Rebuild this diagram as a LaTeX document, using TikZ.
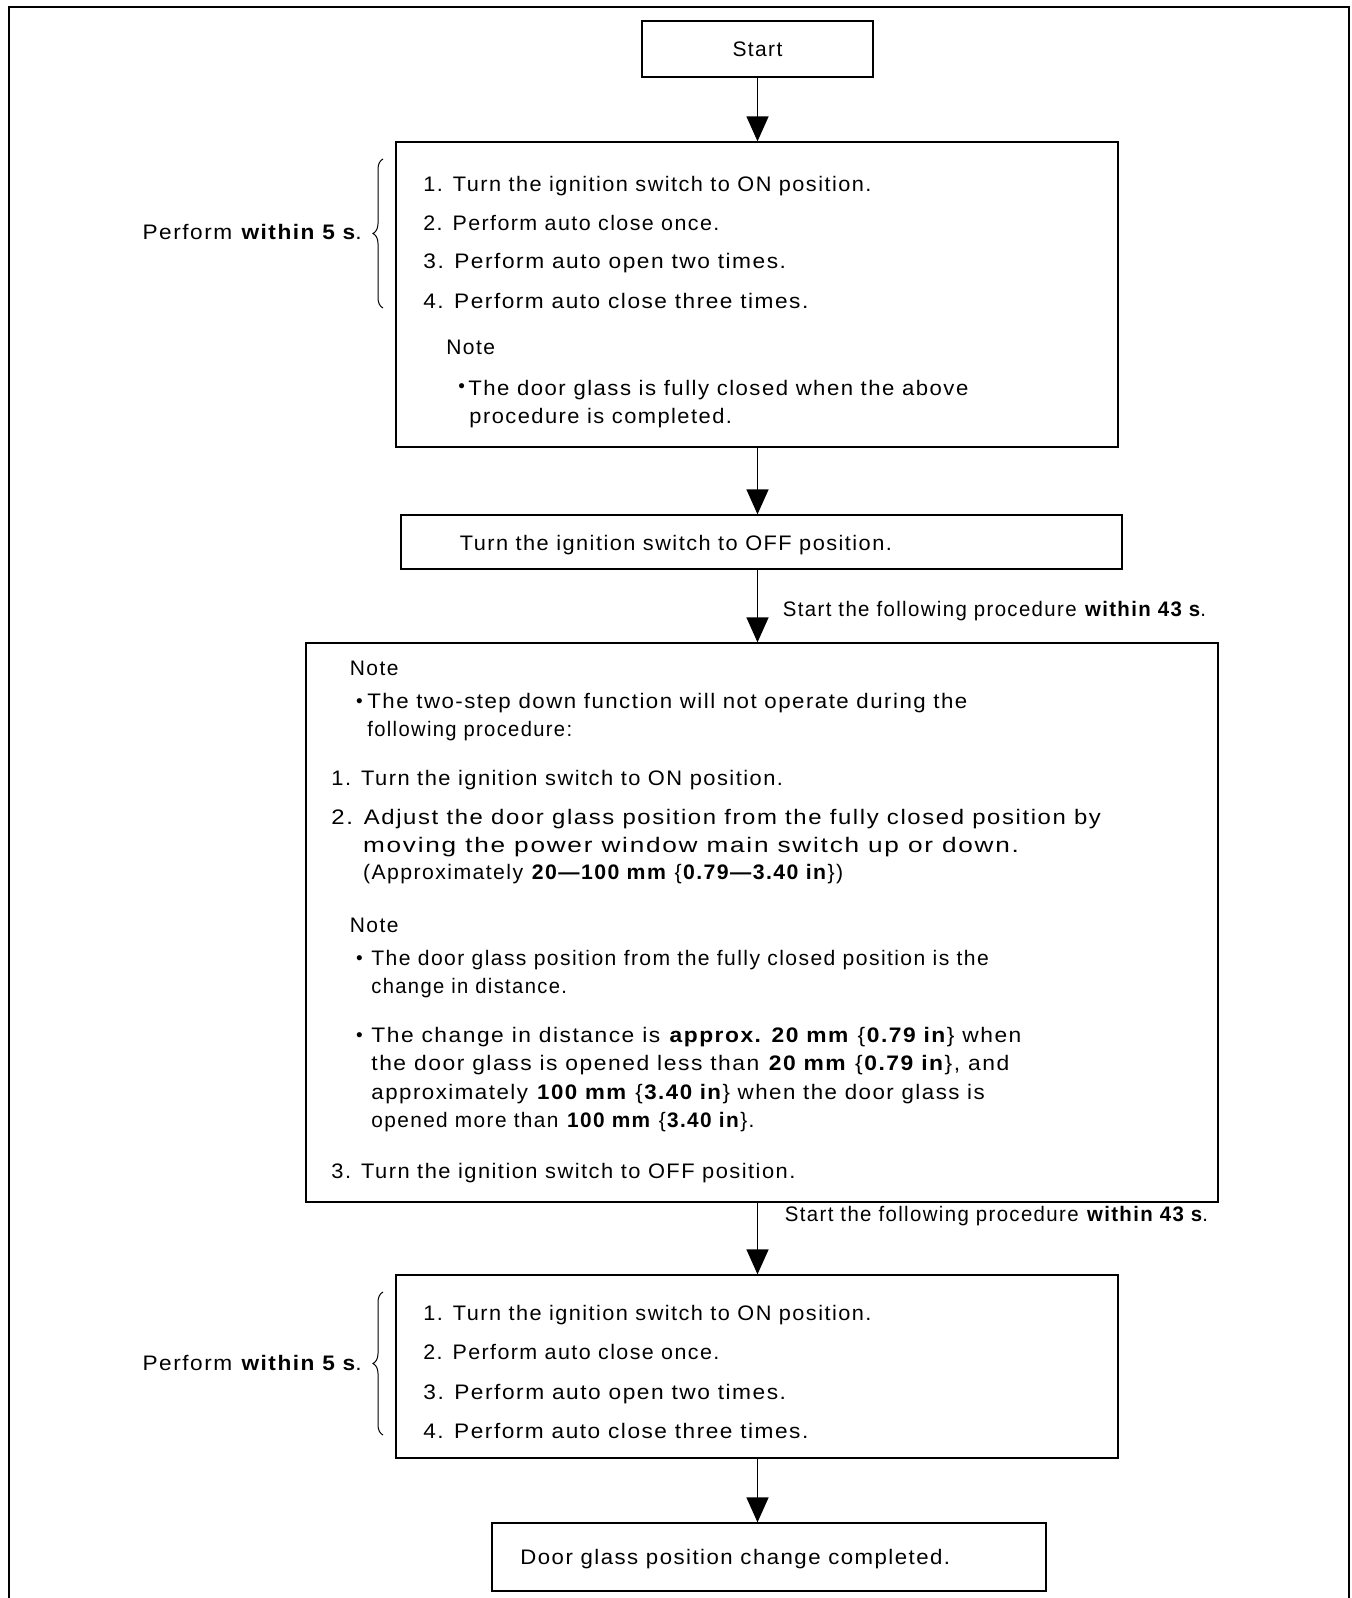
\documentclass[tikz,border=0pt]{standalone}
\usepackage{fontspec}
\setmainfont{Liberation Sans}[LetterSpace=6.7]
\usetikzlibrary{arrows.meta,decorations.pathreplacing,fit}
\newcommand\fw[2]{\resizebox{#1}{\height}{#2}}
\begin{document}
\begin{tikzpicture}[x=0.5pt,y=-0.5pt,
  txt/.style={anchor=base west, inner sep=0pt, font=\fontsize{10.5pt}{12pt}\selectfont},
  rtxt/.style={anchor=base east, inner sep=0pt, font=\fontsize{10.5pt}{12pt}\selectfont},
  bul/.style={anchor=base west, inner sep=0pt, font=\fontsize{9.5pt}{11pt}\selectfont},
  box/.style={draw, line width=0.65pt, inner sep=0pt},
  arr/.style={line width=0.75pt, -{Triangle[width=11pt,length=12.5pt]}},
  brc/.style={decorate, decoration={brace, amplitude=5pt}, line width=0.5pt},
  frame/.style={line width=1pt}]
\useasboundingbox (0,0) rectangle (1351,1598);
\draw[frame] (9,1598) -- (9,7) -- (1349,7) -- (1349,1598);

% boxes
\node[box, fit={(642,21) (873,77)}] (start) {};
\node[box, fit={(396,142) (1118,447)}] (b1) {};
\node[box, fit={(401,515) (1122,569)}] (b2) {};
\node[box, fit={(306,643) (1218,1202)}] (b3) {};
\node[box, fit={(396,1275) (1118,1458)}] (b4) {};
\node[box, fit={(492,1523) (1046,1591)}] (b5) {};

% start text
\node[txt, anchor=center] (tstart) at (start.center) {Start};

% box 1
\node[txt] (a1) at (423,191.5) {\fw{224pt}{1. Turn the ignition switch to ON position.}};
\node[txt] (a2) at (423,230.5) {\fw{148pt}{2. Perform auto close once.}};
\node[txt] (a3) at (423,268.5) {\fw{181.3pt}{3. Perform auto open two times.}};
\node[txt] (a4) at (423,308.5) {\fw{192.5pt}{4. Perform auto close three times.}};
\node[txt] (an) at (446,354.5) {Note};
\node[bul] (ab) at (458,392.5) {•};
\node[txt] (ab1) at (468,395.5) {\fw{250pt}{The door glass is fully closed when the above}};
\node[txt] (ab2) at (469,423.5) {\fw{131.3pt}{procedure is completed.}};
\draw[brc] (383,308) -- (383,159);
\node[rtxt] (p1) at (362,240) {\fw{109.5pt}{Perform \textbf{within 5 s}.}};

% box 2
\node[txt] (c1) at (459.5,550.5) {\fw{216pt}{Turn the ignition switch to OFF position.}};
\node[txt] (l1) at (782.5,616.5) {\fw{211.5pt}{Start the following procedure \textbf{within 43 s}.}};

% box 3
\node[txt] (d0) at (349.5,675.5) {Note};
\node[bul] (db0) at (355.6,707.5) {•};
\node[txt] (d1) at (367,708.5) {\fw{300pt}{The two-step down function will not operate during the}};
\node[txt] (d2) at (367,736) {\fw{102.4pt}{following procedure:}};
\node[txt] (d3) at (331,785.5) {\fw{225.8pt}{1. Turn the ignition switch to ON position.}};
\node[txt] (d4) at (331,824.5) {\fw{384.8pt}{2. Adjust the door glass position from the fully closed position by}};
\node[txt] (d5) at (362.7,852.5) {\fw{328pt}{moving the power window main switch up or down.}};
\node[txt] (d6) at (362.7,879.5) {\fw{240pt}{(Approximately \textbf{20—100 mm} \{\textbf{0.79—3.40 in}\})}};
\node[txt] (d7) at (349.5,932.5) {Note};
\node[bul] (db1) at (355.6,964) {•};
\node[txt] (d8) at (371,965) {\fw{308.7pt}{The door glass position from the fully closed position is the}};
\node[txt] (d9) at (371,993) {\fw{97.8pt}{change in distance.}};
\node[bul] (db2) at (355.6,1041) {•};
\node[txt] (d10) at (371,1042) {\fw{325pt}{The change in distance is \textbf{approx. 20 mm} \{\textbf{0.79 in}\} when}};
\node[txt] (d11) at (371,1070) {\fw{318.9pt}{the door glass is opened less than \textbf{20 mm} \{\textbf{0.79 in}\}, and}};
\node[txt] (d12) at (371,1099) {\fw{306.7pt}{approximately \textbf{100 mm} \{\textbf{3.40 in}\} when the door glass is}};
\node[txt] (d13) at (371,1127.5) {\fw{191.5pt}{opened more than \textbf{100 mm} \{\textbf{3.40 in}\}.}};
\node[txt] (d14) at (331,1178.5) {\fw{232pt}{3. Turn the ignition switch to OFF position.}};
\node[txt] (l2) at (784.5,1221) {\fw{211.5pt}{Start the following procedure \textbf{within 43 s}.}};

% box 4
\node[txt] (e1) at (423,1320.5) {\fw{224pt}{1. Turn the ignition switch to ON position.}};
\node[txt] (e2) at (423,1359.5) {\fw{148pt}{2. Perform auto close once.}};
\node[txt] (e3) at (423,1399.5) {\fw{181.3pt}{3. Perform auto open two times.}};
\node[txt] (e4) at (423,1438) {\fw{192.5pt}{4. Perform auto close three times.}};
\draw[brc] (383,1435) -- (383,1292);
\node[rtxt] (p2) at (362,1370.5) {\fw{109.5pt}{Perform \textbf{within 5 s}.}};

% box 5
\node[txt] (f1) at (520,1564.5) {\fw{214.9pt}{Door glass position change completed.}};

% arrows
\draw[arr] (start.south) -- (start.south |- b1.north);
\draw[arr] (b1.south -| start.south) -- (b2.north -| start.south);
\draw[arr] (b2.south -| start.south) -- (b3.north -| start.south);
\draw[arr] (b3.south -| start.south) -- (b4.north -| start.south);
\draw[arr] (b4.south -| start.south) -- (b5.north -| start.south);
\end{tikzpicture}
\end{document}
